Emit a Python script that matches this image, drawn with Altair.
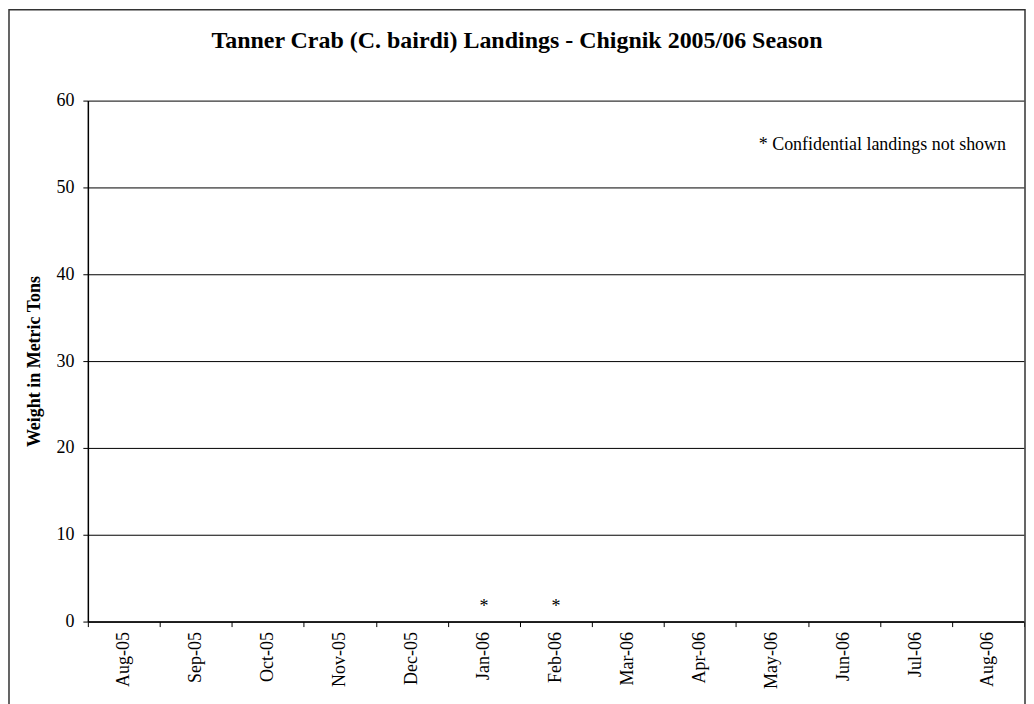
import altair as alt
import pandas as pd

months = ["Aug-05", "Sep-05", "Oct-05", "Nov-05", "Dec-05", "Jan-06", "Feb-06",
          "Mar-06", "Apr-06", "May-06", "Jun-06", "Jul-06", "Aug-06"]
landings = [0, 0, 0, 0, 0, 0, 0, 0, 0, 0, 0, 0, 0]
marker = ["", "", "", "", "", "*", "*", "", "", "", "", "", ""]

df = pd.DataFrame({"month": months, "weight": landings, "mark": marker})

FONT = "Liberation Serif"
W, H = 938, 522

x = alt.X("month:N", sort=months, title=None,
          scale=alt.Scale(paddingInner=0, paddingOuter=0),
          axis=alt.Axis(labelAngle=-90, labelAlign="right", labelBaseline="middle",
                        tickBand="extent", tickSize=5, labelPadding=5,
                        labelFont=FONT, labelFontSize=18, labelColor="black",
                        domainColor="black", domainWidth=1.5, tickColor="black",
                        grid=False))
y = alt.Y("weight:Q", title="Weight in Metric Tons",
          scale=alt.Scale(domain=[0, 60], nice=False),
          axis=alt.Axis(values=[0, 10, 20, 30, 40, 50, 60], tickSize=5, labelPadding=9,
                        labelFont=FONT, labelFontSize=18, labelColor="black",
                        titleFont=FONT, titleFontSize=18, titleFontWeight="bold",
                        titleColor="black", titleX=-53, titleBaseline="middle",
                        domainColor="black", domainWidth=1.5, tickColor="black",
                        gridColor="black", gridWidth=1))

bars = alt.Chart(df).mark_bar(color="#9999ff").encode(x=x, y=y)

stars = alt.Chart(df).mark_text(font=FONT, fontSize=18, baseline="bottom", dy=-6,
                                fill="black", color="black").encode(
    x=alt.X("month:N", sort=months), y=alt.Y("weight:Q"), text="mark:N")

note = alt.Chart(pd.DataFrame({"t": ["* Confidential landings not shown"]})).mark_text(
    font=FONT, fontSize=18, align="right", baseline="middle", fill="black").encode(
    x=alt.value(920), y=alt.value(45), text="t:N")

frame = alt.Chart(pd.DataFrame({"a": [0]})).mark_rect(
    fill=None, stroke="#333333", strokeWidth=1.5).encode(
    x=alt.value(-79), x2=alt.value(939), y=alt.value(-91), y2=alt.value(700))

title = alt.Chart(pd.DataFrame({"t": ["Tanner Crab (C. bairdi) Landings - Chignik 2005/06 Season"]})).mark_text(
    font=FONT, fontSize=24, fontWeight="bold", align="center", baseline="alphabetic",
    fill="black").encode(x=alt.value(430), y=alt.value(-53), text="t:N")

chart = alt.layer(frame, bars, stars, note, title).properties(
    width=W, height=H, padding=0, background="white"
).configure_view(stroke=None)

chart.save("out.html", embed_options={"renderer": "svg", "actions": False})
